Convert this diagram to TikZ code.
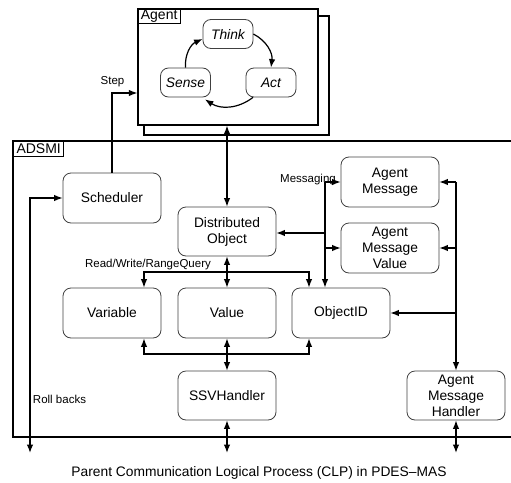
\documentclass[tikz,border=0pt]{standalone}
\usepackage{fontspec}
\setmainfont{Liberation Sans}
\usetikzlibrary{arrows.meta}

\begin{document}
\begin{tikzpicture}[x=1pt,y=-1pt,>={Latex[length=8.5pt,width=6.5pt]}]

	\tikzset{
	  box/.style={
		draw=black!75,
		line width=0.8pt,
		rounded corners=8pt,
		minimum width=98pt,
		minimum height=50pt,
		inner sep=1pt,
		align=center,
		font=\fontsize{13.8}{16}\selectfont,
	  },
	  phase/.style={box,minimum width=50pt,minimum height=29pt,font=\fontsize{13.8}{16}\selectfont\itshape},
	  frame/.style={draw,line width=1.3pt,inner sep=0pt},
	  tag/.style={draw,line width=1pt,anchor=north west,inner xsep=3pt,inner ysep=0pt,minimum height=15pt,font=\fontsize{14}{16}\selectfont},
	  lbl/.style={inner sep=0pt,font=\fontsize{11.5}{13}\selectfont},
	  link/.style={line width=1.2pt},
	}
	\useasboundingbox (0,0) rectangle (511,482);

	% agent frames
	\node[frame,minimum width=185pt,minimum height=119pt] (agentbk) at (236.5,75.5) {};
	\node[frame,fill=white,minimum width=180pt,minimum height=116pt] (agent) at (228,67) {};
	\node[tag] (agenttag) at (agent.north west) {Agent};
	\node[phase] (think) at (228,34) {Think};
	\node[phase] (sense) at (185.5,82.5) {Sense};
	\node[phase] (act) at (271,82.5) {Act};
	\draw[link,->] (sense.north) to[bend left=35] ([yshift=-5pt]think.west);
	\draw[link,->] (think.east) to[bend left=35] (act.north);
	\draw[link,->] ([xshift=-18pt]act.south) to[bend left=35] ([xshift=-6pt,yshift=-2pt]sense.south east);

	% ADSMI frame
	\coordinate (adsmi) at (13,141);
	\draw[frame,line width=1.5pt] (511,141) -- (adsmi) -- (13,437) -- (511,437);
	\node[tag] (adsmitag) at (adsmi) {ADSMI};

	\node[box] (sched) at (112,198) {Scheduler};
	\node[box,minimum height=49pt] (dobj) at (227,231.5) {Distributed\\Object};
	\node[box] (amsg) at (390,182) {Agent\\Message};
	\node[box] (amval) at (390,248) {Agent\\Message\\Value};
	\node[box] (var) at (112,313) {Variable};
	\node[box] (val) at (227,313) {Value};
	\node[box] (oid) at (341,313) {ObjectID};
	\node[box,minimum height=49pt] (ssv) at (227,395.5) {SSVHandler};
	\node[box,minimum height=49pt] (amh) at (456,395.5) {Agent\\Message\\Handler};

	% step and roll backs
	\coordinate (stepc) at (112,93);
	\coordinate (rbend) at (30,453);
	\draw[link,->] (sched.north) -- (stepc) -- (stepc -| agent.west);
	\node[lbl] (steplbl) at (112.5,82) {Step};
	\draw[link,<->] (rbend) |- (sched.west);
	\node[lbl] (rblbl) at (59.5,399) {Roll backs};

	% agent to distributed object
	\draw[link,<->] (agent.south -| dobj.north) -- (dobj.north);

	% read/write/rangequery
	\coordinate (rwl) at (144,272);
	\coordinate (rwr) at (309,272);
	\draw[link,<->] (dobj.south) -- (val.north);
	\draw[link,<->] (rwl |- var.north) -- (rwl) -- (rwr) -- (rwr |- oid.north);
	\node[lbl] (rwlbl) at (148,265) {Read/Write/RangeQuery};

	% bottom links
	\coordinate (bl) at (144,354);
	\coordinate (br) at (309,354);
	\draw[link,<->] (bl |- var.south) -- (bl) -- (br) -- (br |- oid.south);
	\draw[link,<->] (val.south) -- (ssv.north);

	% messaging
	\coordinate (mtop) at (325,182);
	\draw[link,->] (mtop) -- (amsg.west);
	\draw[link,->] (mtop) -- (mtop |- oid.north);
	\draw[link,->] (mtop |- amval.west) -- (amval.west);
	\draw[link,->] (mtop |- 0,233) -- (dobj.east |- 0,233);
	\node[lbl] (msglbl) at (308,180) {Messaging};

	% agent message handler
	\coordinate (rtop) at (456,182);
	\draw[link,->] (rtop) -- (amsg.east);
	\draw[link,->] (rtop) -- (amh.north);
	\draw[link,->] (rtop |- amval.east) -- (amval.east);
	\draw[link,->] (rtop |- oid.east) -- (oid.east);

	% out of ADSMI
	\coordinate (ssvout) at (227,453);
	\coordinate (amhout) at (456,453);
	\draw[link,<->] (ssv.south) -- (ssvout);
	\draw[link,<->] (amh.south) -- (amhout);

	\node[inner sep=0pt,font=\fontsize{13.8}{16}\selectfont] (caption) at (259,473) {Parent Communication Logical Process (CLP) in PDES--MAS};

\end{tikzpicture}
\end{document}
